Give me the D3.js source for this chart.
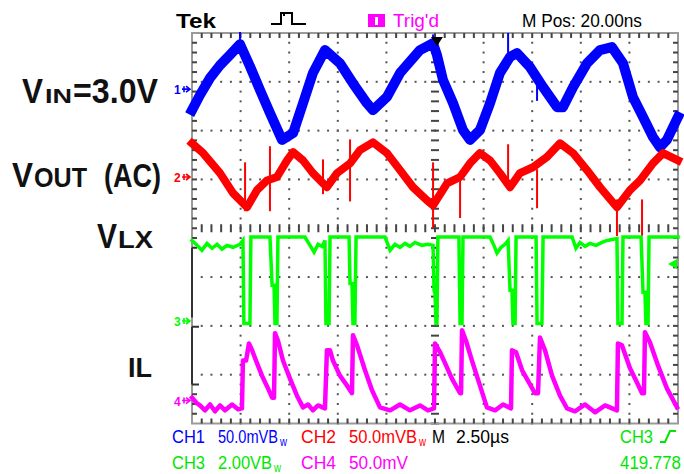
<!DOCTYPE html>
<html><head><meta charset="utf-8">
<script src="https://cdn.jsdelivr.net/npm/d3@7/dist/d3.min.js"></script>
<style>html,body{margin:0;padding:0;background:#fff;}svg{display:block;}</style>
</head><body><svg id="c" width="684" height="474"></svg>
<script>
// ---- data: time in microseconds (2.5 us/div, 10 div), level in screen divisions (-4..4) ----
const ch1 = [[0,2.42],[0.41,2.73],[0.93,3.08],[1.44,3.34],[1.95,3.55],[2.47,3.77],[2.98,3.32],[3.50,2.83],[4.01,2.36],[4.63,1.81],[5.20,1.95],[5.71,2.56],[6.22,3.18],[6.84,3.65],[7.61,3.38],[8.28,2.97],[9.00,2.56],[9.31,2.42],[10.03,2.69],[10.70,3.18],[11.73,3.65],[12.40,3.79],[12.60,3.55],[12.91,3.04],[13.43,2.56],[13.94,2.01],[14.30,1.81],[14.81,2.01],[15.33,2.56],[15.84,3.18],[16.36,3.51],[16.72,3.59],[17.39,3.30],[18.06,2.89],[18.78,2.48],[19.08,2.48],[19.60,2.89],[20.32,3.38],[20.99,3.65],[21.60,3.71],[22.17,3.38],[22.68,2.69],[23.20,2.28],[23.71,1.87],[24.07,1.66],[24.43,1.81],[25.00,2.28]];
const ch1Spikes = [[2.47,3.6,4.0],[12.40,3.6,3.95],[16.26,3.3,3.98],[17.75,3.04,2.63]];
const ch2 = [[0,1.74],[0.57,1.54],[1.44,1.13],[2.11,0.72],[2.83,0.43],[3.34,0.78],[3.86,0.98],[4.37,1.05],[4.89,1.39],[5.20,1.56],[5.71,1.39],[6.22,1.13],[6.94,0.84],[7.46,1.13],[8.13,1.33],[8.64,1.60],[9.31,1.76],[10.03,1.54],[10.70,1.19],[11.37,0.84],[12.09,0.57],[12.40,0.47],[13.12,0.92],[13.79,1.05],[14.30,1.33],[14.81,1.54],[15.33,1.39],[15.84,1.13],[16.36,0.84],[16.87,1.13],[17.54,1.25],[18.26,1.46],[18.93,1.74],[19.60,1.54],[20.32,1.19],[20.99,0.84],[21.86,0.43],[22.53,0.78],[23.05,0.98],[23.71,1.33],[24.23,1.54],[25.00,1.39]];
const ch2Spikes = [[2.73,1.33,0.37],[4.01,1.66,0.37],[6.74,1.39,0.72],[8.13,1.80,0.57],[12.40,1.33,0.02],[13.79,1.13,0.23],[16.26,1.70,0.84],[17.75,1.19,0.43],[21.86,0.57,-0.14],[23.15,0.57,-0.14]];
const ch3 = [[0,-0.25],[0.26,-0.35],[0.51,-0.45],[0.77,-0.31],[1.03,-0.41],[1.29,-0.33],[1.54,-0.43],[1.80,-0.35],[2.11,-0.39],[2.47,-0.33],[2.62,-0.25],[2.67,-1.95],[2.98,-1.95],[3.03,-0.18],[4.01,-0.18],[4.12,-1.17],[4.22,-1.17],[4.27,-1.95],[4.37,-1.95],[4.42,-0.18],[5.81,-0.18],[6.07,-0.35],[6.28,-0.49],[6.48,-0.33],[6.69,-0.37],[6.84,-0.25],[6.89,-1.95],[7.05,-1.95],[7.10,-0.18],[8.08,-0.18],[8.13,-1.13],[8.23,-1.13],[8.28,-1.95],[8.38,-1.95],[8.44,-0.18],[9.93,-0.18],[10.19,-0.45],[10.44,-0.33],[10.70,-0.39],[10.96,-0.31],[11.21,-0.37],[11.47,-0.29],[11.83,-0.35],[12.14,-0.33],[12.40,-0.35],[12.45,-1.27],[12.50,-1.33],[12.55,-1.95],[12.60,-1.95],[12.65,-0.18],[13.73,-0.18],[13.79,-1.95],[13.89,-1.95],[13.94,-0.18],[15.33,-0.18],[15.53,-0.35],[15.69,-0.51],[15.90,-0.39],[16.10,-0.33],[16.26,-0.25],[16.36,-1.27],[16.46,-1.27],[16.51,-1.95],[16.62,-1.95],[16.67,-0.18],[17.70,-0.18],[17.75,-1.95],[18.00,-1.95],[18.06,-0.18],[19.55,-0.18],[19.75,-0.41],[19.96,-0.29],[20.22,-0.37],[20.47,-0.31],[20.78,-0.35],[21.09,-0.29],[21.35,-0.25],[21.86,-0.21],[21.91,-1.95],[22.12,-1.95],[22.17,-0.18],[23.10,-0.18],[23.20,-1.31],[23.30,-1.31],[23.35,-1.95],[23.46,-1.95],[23.51,-0.18],[25.00,-0.18]];
const ch4 = [[0,-3.47],[0.26,-3.59],[0.41,-3.63],[0.67,-3.73],[0.93,-3.61],[1.18,-3.75],[1.44,-3.63],[1.70,-3.73],[2.06,-3.61],[2.37,-3.71],[2.57,-3.69],[2.62,-2.71],[2.78,-2.71],[2.93,-2.36],[3.09,-2.50],[3.29,-2.71],[3.60,-3.02],[3.91,-3.28],[4.12,-3.47],[4.22,-3.47],[4.27,-2.15],[4.42,-2.30],[4.68,-2.71],[5.04,-3.08],[5.40,-3.43],[5.71,-3.67],[5.97,-3.61],[6.22,-3.73],[6.48,-3.63],[6.84,-3.69],[6.94,-2.50],[7.10,-2.50],[7.25,-2.71],[7.61,-3.02],[7.97,-3.22],[8.23,-3.38],[8.28,-2.19],[8.49,-2.40],[8.90,-2.91],[9.26,-3.32],[9.67,-3.67],[10.19,-3.73],[10.70,-3.61],[11.21,-3.73],[11.73,-3.63],[12.14,-3.73],[12.45,-3.69],[12.50,-2.36],[12.76,-2.54],[13.07,-2.81],[13.37,-3.08],[13.79,-3.38],[13.84,-3.38],[13.89,-2.09],[14.09,-2.30],[14.40,-2.71],[14.81,-3.22],[15.17,-3.67],[15.59,-3.73],[16.00,-3.61],[16.41,-3.69],[16.46,-2.50],[16.67,-2.54],[16.98,-2.91],[17.28,-3.12],[17.64,-3.38],[17.80,-3.38],[17.90,-2.24],[18.16,-2.50],[18.52,-3.02],[18.93,-3.43],[19.29,-3.69],[19.70,-3.75],[20.22,-3.61],[20.73,-3.77],[21.25,-3.63],[21.86,-3.73],[21.91,-2.36],[22.12,-2.40],[22.53,-2.87],[22.84,-3.12],[23.15,-3.38],[23.25,-3.38],[23.30,-2.13],[23.56,-2.34],[23.97,-2.81],[24.43,-3.28],[24.95,-3.67]];
const markerLevels = [2.85, 1.05, -1.90, -3.53];   // channel ground markers (div)
const markerNames = ["1","2","3","4"];
const triggerLevel = -0.73;                      // ch3 trigger arrow (div)
const triggerTime = 12.6;                         // trigger position (us)
const headerTexts = ["Tek","Trig'd","M Pos: 20.00ns"];
const row1Texts = ["CH1","50.0mVB","CH2","50.0mVB","M","2.50µs","CH3"];
const row2Texts = ["CH3","2.00VB","CH4","50.0mV","419.778"];
const bwMark = "w";
const sideLabels = [["V","IN","=3.0V"],["V","OUT","(AC)"],["V","LX"],["IL"]];

const colors = ["#0000ff","#ff0000","#00ff00","#ff00ff"];
const svg = d3.select("#c");
const x = d3.scaleLinear().domain([0,25]).range([192,678]);
const y = d3.scaleLinear().domain([-4,4]).range([423.5,33]);

// ---- graticule ----
const grid = svg.append("g");
const fineT = d3.range(0,25.001,0.5);
const fineV = d3.range(-4,4.001,0.2).map(v=>+v.toFixed(2));
const divT = [2.5,5,7.5,10,15,17.5,20,22.5];
const divV = [-3,-2,-1,1,2,3];
divT.forEach(t=>fineV.forEach(v=>grid.append("rect").attr("x",x(t)-1).attr("y",y(v)-1).attr("width",2).attr("height",2).attr("fill","#555")));
divV.forEach(v=>fineT.forEach(t=>grid.append("rect").attr("x",x(t)-1).attr("y",y(v)-1).attr("width",2).attr("height",2).attr("fill","#555")));
fineV.forEach(v=>grid.append("rect").attr("x",x(12.5)-4).attr("y",y(v)-1).attr("width",8).attr("height",2).attr("fill","#444"));
fineT.forEach(t=>grid.append("rect").attr("x",x(t)-1).attr("y",y(0)-4).attr("width",2).attr("height",8).attr("fill","#444"));
grid.append("rect").attr("x",x(0)).attr("y",y(4)).attr("width",x(25)-x(0)).attr("height",y(-4)-y(4))
  .attr("fill","none").attr("stroke","#9a9a9a").attr("stroke-width",2);
fineT.slice(1,-1).forEach(t=>{
  grid.append("rect").attr("x",x(t)-1).attr("y",y(4)).attr("width",2).attr("height",5).attr("fill","#444");
  grid.append("rect").attr("x",x(t)-1).attr("y",y(-4)-5).attr("width",2).attr("height",5).attr("fill","#444");
});
fineV.slice(1,-1).forEach(v=>{
  grid.append("rect").attr("x",x(25)-5).attr("y",y(v)-1).attr("width",5).attr("height",2).attr("fill","#444");
  if (y(v) < 244 || y(v) > 390)
    grid.append("rect").attr("x",x(0)).attr("y",y(v)-1).attr("width",5).attr("height",2).attr("fill","#444");
});
grid.append("path").attr("d",`M${x(0)},${y(-0.4)}V${y(-1.83)}M${x(0)},${y(-0.4)}h5M${x(0)},${y(-2.02)}V${y(-3.2)}M${x(0)},${y(-2.02)}h7M${x(0)},${y(-3.2)}h7`)
  .attr("stroke","#333").attr("stroke-width",2).attr("fill","none");

// ---- traces ----
const line = d3.line().x(d=>x(d[0])).y(d=>y(d[1]));
const traces = svg.append("g").attr("fill","none").attr("stroke-linejoin","round").attr("stroke-linecap","square");
traces.append("path").attr("d",line(ch1)).attr("stroke",colors[0]).attr("stroke-width",10);
ch1Spikes.forEach(s=>traces.append("line").attr("x1",x(s[0])).attr("x2",x(s[0])).attr("y1",y(s[1])).attr("y2",y(s[2])).attr("stroke",colors[0]).attr("stroke-width",2));
traces.append("path").attr("d",line(ch2)).attr("stroke",colors[1]).attr("stroke-width",8);
ch2Spikes.forEach(s=>traces.append("line").attr("x1",x(s[0])).attr("x2",x(s[0])).attr("y1",y(s[1])).attr("y2",y(s[2])).attr("stroke",colors[1]).attr("stroke-width",2));
traces.append("path").attr("d",line(ch3)).attr("stroke",colors[2]).attr("stroke-width",3.5).attr("stroke-linejoin","miter");
traces.append("path").attr("d",line(ch4)).attr("stroke",colors[3]).attr("stroke-width",4.5);

// trigger markers
svg.append("path").attr("d",`M${x(triggerTime)-6},${y(4)+4}h12l-6,9z`).attr("fill","#000");
svg.append("path").attr("d",`M${x(25)-10},${y(triggerLevel)}l9,-5v10z`).attr("fill",colors[2]);

// channel markers
markerLevels.forEach((lv,i)=>{
  const yy = y(lv);
  svg.append("text").attr("x",174).attr("y",yy+5).text(markerNames[i]).attr("fill",colors[i])
    .attr("font-family","Liberation Sans, Arial").attr("font-weight","bold").attr("font-size",12);
  svg.append("path").attr("d",`M182,${yy}H190M186,${yy-3}L190,${yy}L186,${yy+3}M184,${yy-3}V${yy+3}`)
    .attr("stroke",colors[i]).attr("stroke-width",1.6).attr("fill","none");
});

// ---- header / footer text ----
const FONT = "Liberation Sans, Arial";
function txt(s,xx,yy,size,len,fill,weight){
  const t = svg.append("text").attr("x",xx).attr("y",yy).text(s).attr("fill",fill)
    .attr("font-family",FONT).attr("font-size",size);
  if (weight) t.attr("font-weight",weight);
  if (len) t.attr("textLength",len).attr("lengthAdjust","spacingAndGlyphs");
  return t;
}
// scope-style narrow text: small font stretched vertically
function ftxt(s,xx,yy,len,fill,size){
  const sz = size || 13;
  svg.append("text").attr("transform",`translate(${xx},${yy}) scale(1,1.38)`).text(s).attr("fill",fill)
    .attr("font-family",FONT).attr("font-size",sz)
    .attr("textLength",len).attr("lengthAdjust","spacingAndGlyphs");
}
function ftxtBw(s,xx,yy,len,fill){
  ftxt(s,xx,yy,len,fill);
  ftxt(bwMark,xx+len+2,yy+3,7,fill,9);
}
txt(headerTexts[0],176,28,21,40,"#000","bold");
svg.append("path").attr("d","M271,24H281V13H292V24H306M284,13V16").attr("stroke","#000").attr("stroke-width",2).attr("fill","none");
svg.append("rect").attr("x",368).attr("y",14).attr("width",17).attr("height",13).attr("fill","#ff00ff");
svg.append("rect").attr("x",375).attr("y",17).attr("width",3).attr("height",8).attr("fill","#fff");
ftxt(headerTexts[1],393,27,46,"#ff00ff");
ftxt(headerTexts[2],522,27,120,"#000");

const B=colors[0],R=colors[1],G="#00e600",M=colors[3];
ftxt(row1Texts[0],172,443,33,B); ftxtBw(row1Texts[1],218,443,60,B);
ftxt(row1Texts[2],301,443,35,R); ftxtBw(row1Texts[3],349,443,68,R);
ftxt(row1Texts[4],432,443,13,"#000"); ftxt(row1Texts[5],456,443,53,"#000");
ftxt(row1Texts[6],620,443,33,G);
svg.append("path").attr("d","M660,442H665L670,431H676").attr("stroke",G).attr("stroke-width",2).attr("fill","none");
ftxt(row2Texts[0],172,469,33,G); ftxtBw(row2Texts[1],218,469,54,G);
ftxt(row2Texts[2],301,469,35,M); ftxt(row2Texts[3],349,469,59,M);
ftxt(row2Texts[4],620,469,61,G);

// ---- side labels ----
function side(s,xx,yy,size,len){
  svg.append("text").attr("x",xx).attr("y",yy).text(s).attr("fill","#111")
    .attr("font-family","Liberation Sans, Arial").attr("font-weight","bold").attr("font-size",size)
    .attr("textLength",len).attr("lengthAdjust","spacingAndGlyphs");
}
side(sideLabels[0][0],22,103,35,21); side(sideLabels[0][1],45,103,21,27); side(sideLabels[0][2],73,103,35,85);
side(sideLabels[1][0],12,187,35,21); side(sideLabels[1][1],34,187,27,53); side(sideLabels[1][2],104,187,33,57);
side(sideLabels[2][0],97,248,35,20); side(sideLabels[2][1],118,248,23,35);
side(sideLabels[3][0],128,377,28,24);
</script></body></html>
